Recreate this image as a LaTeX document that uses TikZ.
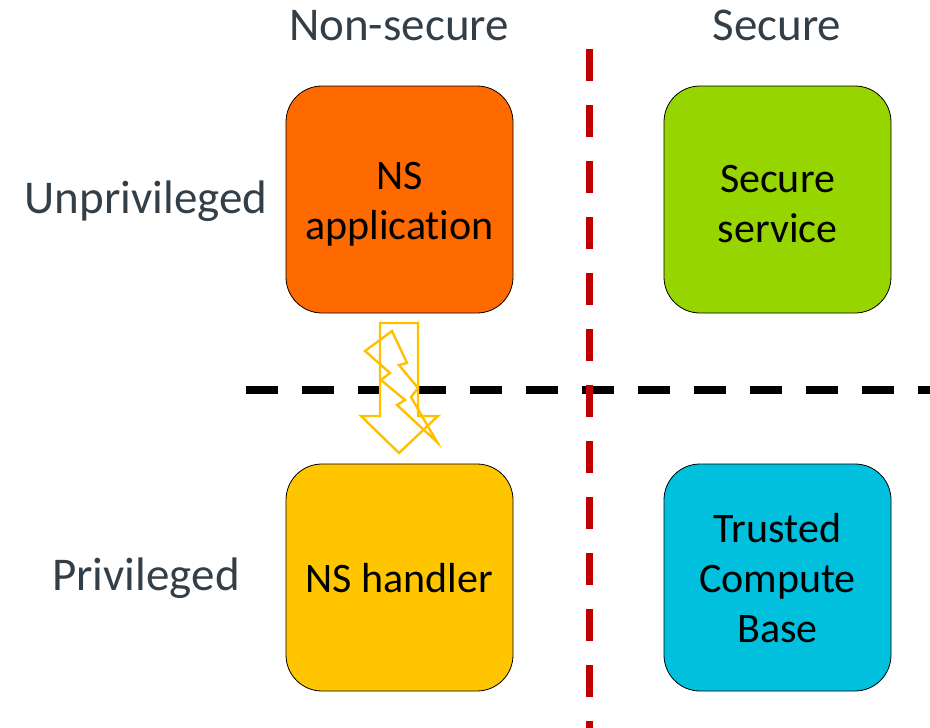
\documentclass[tikz,border=0pt]{standalone}
\usepackage{fontspec}
\setmainfont[Ligatures={NoCommon,NoRare},RawFeature={-liga;-clig;-dlig}]{Carlito}
\definecolor{nsorange}{HTML}{FF6A00}
\definecolor{secgreen}{HTML}{96D500}
\definecolor{nsyellow}{HTML}{FFC600}
\definecolor{tcbcyan}{HTML}{00C0DE}
\definecolor{boltyellow}{HTML}{FFC000}
\definecolor{sepred}{HTML}{C00000}
\definecolor{labelgray}{HTML}{333F48}
\begin{document}
\begin{tikzpicture}[x=1pt,y=-1pt,
  box/.style={draw=black,line width=0.8pt,rounded corners=36pt,minimum width=227pt,minimum height=227pt,inner sep=0pt},
  boxtext/.style={inner sep=0pt,align=center,font=\fontsize{42}{50}\selectfont,text=black},
  headlabel/.style={anchor=base,font=\fontsize{47}{56}\selectfont,text=labelgray},
  sepline/.style={line width=8pt,dash pattern=on 32pt off 24pt,line cap=butt},
  boltline/.style={draw=boltyellow,line width=2.4pt,line join=miter}]
\useasboundingbox (0,0) rectangle (930,728);
% headings
\node[headlabel] (hns) at (399,40) {Non-secure};
\node[headlabel] (hs) at (777,40) {Secure};
\node[headlabel] (hun) at (146,213) {Unprivileged};
\node[headlabel] (hpr) at (146,590) {Privileged};
% boxes
\node[box,fill=nsorange] (nsapp) at (399.5,199.5) {};
\node[box,fill=secgreen] (secsvc) at (777.5,199.5) {};
\node[box,fill=nsyellow] (nshand) at (399.5,577.5) {};
\node[box,fill=tcbcyan] (tcb) at (777.5,577.5) {};
\node[boxtext] (nsapptxt) at ([yshift=-5pt]nsapp.center) {NS\\application};
\node[boxtext] (secsvctxt) at ([yshift=-5pt]secsvc.center) {Secure\\service};
\node[boxtext] (nshandtxt) at ([yshift=-1pt]nshand.center) {NS handler};
\node[boxtext] (tcbtxt) at ([yshift=-1pt]tcb.center) {Trusted\\Compute\\Base};
% separators
\coordinate (hl) at (246,389.5);
\coordinate (hr) at (930,389.5);
\coordinate (vt) at (589.5,49);
\coordinate (vb) at (589.5,728);
\draw[sepline,black] (hl) -- (hr);
\draw[sepline,sepred,line width=7pt] (vt) -- (vb);
% exception arrow
\draw[boltline,fill=white] (380,323) -- (418,323) -- (418,416) -- (438,416) -- (399,453) -- (361,416) -- (380,416) -- cycle;
\draw[boltline] (392,331) -- (365,351) -- (390,373) -- (381,380) -- (405,400) -- (397,405) -- (437,442)
  -- (411,397) -- (418,388) -- (399,365) -- (407,363) -- cycle;
\end{tikzpicture}
\end{document}
